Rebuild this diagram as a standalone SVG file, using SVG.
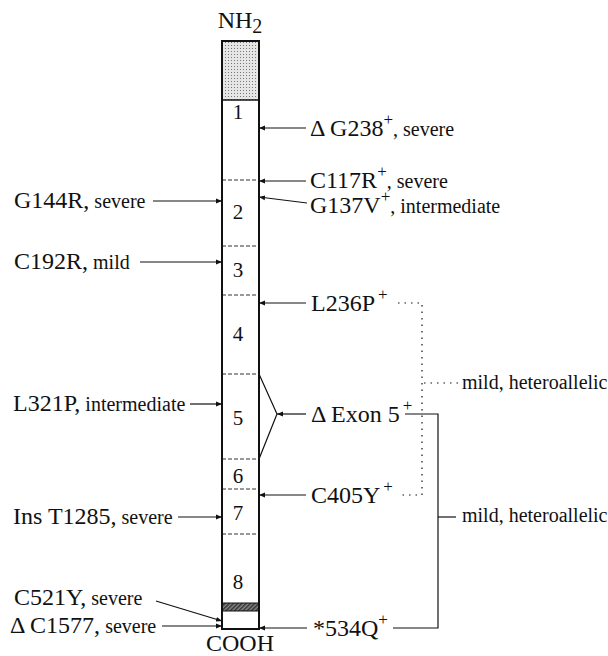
<svg xmlns="http://www.w3.org/2000/svg" width="608" height="656" viewBox="0 0 608 656">
<style>
text{font-family:"Liberation Serif","Times New Roman",serif;fill:#111;font-size:24px}
.s{font-size:20px}
.sup{font-size:17px}
.num{text-anchor:middle;font-size:21px}
.col{fill:none;stroke:#111;stroke-width:2}
.div{stroke:#333;stroke-width:1;stroke-dasharray:4 2}
.arr{stroke:#111;stroke-width:1.2;fill:none;marker-end:url(#ah)}
.ln{stroke:#111;stroke-width:1.2;fill:none}
.dot{stroke:#111;stroke-width:1.2;fill:none;stroke-dasharray:1.5 5}
</style>
<defs>
<marker id="ah" viewBox="0 0 10 10" refX="10" refY="5" markerWidth="6" markerHeight="6" orient="auto" markerUnits="userSpaceOnUse">
<path d="M0,1 L10,5 L0,9 z" fill="#111"/>
</marker>
<pattern id="stip" width="3" height="3" patternUnits="userSpaceOnUse">
<rect width="3" height="3" fill="#e6e6e6"/>
<rect width="1" height="1" fill="#777"/>
</pattern>
<pattern id="hatch" width="3" height="3" patternUnits="userSpaceOnUse" patternTransform="rotate(45)">
<rect width="3" height="3" fill="#888"/>
<rect width="1.5" height="3" fill="#333"/>
</pattern>
</defs>

<g id="protein">
<text x="240" y="28" text-anchor="middle">NH<tspan class="s" dy="5">2</tspan></text>
<rect x="222" y="41" width="37" height="59" fill="url(#stip)"/>
<rect x="222" y="603" width="37" height="8" fill="url(#hatch)"/>
<line class="div" x1="222" y1="180" x2="259" y2="180"/>
<line class="div" x1="222" y1="246" x2="259" y2="246"/>
<line class="div" x1="222" y1="295" x2="259" y2="295"/>
<line class="div" x1="222" y1="374" x2="259" y2="374"/>
<line class="div" x1="222" y1="459" x2="259" y2="459"/>
<line class="div" x1="222" y1="489" x2="259" y2="489"/>
<line class="div" x1="222" y1="534" x2="259" y2="534"/>
<line x1="222" y1="100" x2="259" y2="100" stroke="#111" stroke-width="1.5"/>
<line x1="222" y1="603" x2="259" y2="603" stroke="#111" stroke-width="1"/>
<line x1="222" y1="611" x2="259" y2="611" stroke="#111" stroke-width="1"/>
<rect class="col" x="222" y="41" width="37" height="588"/>
<text class="num" x="238" y="119">1</text>
<text class="num" x="238" y="219">2</text>
<text class="num" x="238" y="277">3</text>
<text class="num" x="238" y="341">4</text>
<text class="num" x="238" y="425">5</text>
<text class="num" x="238" y="483">6</text>
<text class="num" x="238" y="520">7</text>
<text class="num" x="238" y="589">8</text>
<text x="240" y="651" text-anchor="middle">COOH</text>
</g>

<g id="connectors">
<line class="arr" x1="306" y1="128" x2="259" y2="128"/>
<line class="arr" x1="306" y1="181" x2="259" y2="181"/>
<line class="arr" x1="307" y1="203" x2="259" y2="197"/>
<line class="arr" x1="306" y1="303" x2="259" y2="303"/>
<line class="arr" x1="306" y1="414" x2="277" y2="414"/>
<polyline class="ln" points="259,374 277,414 259,459"/>
<line class="arr" x1="306" y1="495" x2="259" y2="495"/>
<line class="arr" x1="307" y1="628" x2="259" y2="628"/>
<line class="arr" x1="153" y1="201" x2="222" y2="201"/>
<line class="arr" x1="140" y1="262" x2="222" y2="262"/>
<line class="arr" x1="190" y1="404" x2="222" y2="404"/>
<line class="arr" x1="178" y1="517" x2="222" y2="517"/>
<line class="arr" x1="156" y1="601" x2="222" y2="621"/>
<line class="arr" x1="162" y1="626" x2="222" y2="626"/>
<polyline class="dot" points="398,303 422,303 422,495 398,495"/>
<line class="dot" x1="424" y1="383" x2="458" y2="383"/>
<polyline class="ln" points="405,414 438,414 438,628 393,628"/>
<line class="ln" x1="438" y1="517" x2="456" y2="517"/>
</g>

<g id="labels-right">
<text x="310" y="136">Δ G238<tspan class="sup" dy="-11">+</tspan><tspan class="s" dy="11">, severe</tspan></text>
<text x="310" y="188">C117R<tspan class="sup" dy="-11">+</tspan><tspan class="s" dy="11">, severe</tspan></text>
<text x="310" y="213">G137V<tspan class="sup" dy="-11">+</tspan><tspan class="s" dy="11">, intermediate</tspan></text>
<text x="311" y="311">L236P<tspan class="sup" dx="3" dy="-11">+</tspan></text>
<text x="311" y="422">Δ Exon 5<tspan class="sup" dx="3" dy="-11">+</tspan></text>
<text x="311" y="503">C405Y<tspan class="sup" dx="3" dy="-11">+</tspan></text>
<text x="313" y="636">*534Q<tspan class="sup" dy="-11">+</tspan></text>
<text class="s" x="462" y="389">mild, heteroallelic</text>
<text class="s" x="462" y="522">mild, heteroallelic</text>
</g>

<g id="labels-left">
<text x="14" y="208">G144R,<tspan class="s"> severe</tspan></text>
<text x="14" y="269">C192R,<tspan class="s"> mild</tspan></text>
<text x="13" y="411">L321P,<tspan class="s"> intermediate</tspan></text>
<text x="13" y="524">Ins T1285,<tspan class="s"> severe</tspan></text>
<text x="14" y="605">C521Y,<tspan class="s"> severe</tspan></text>
<text x="10" y="633">Δ C1577,<tspan class="s"> severe</tspan></text>
</g>
</svg>
